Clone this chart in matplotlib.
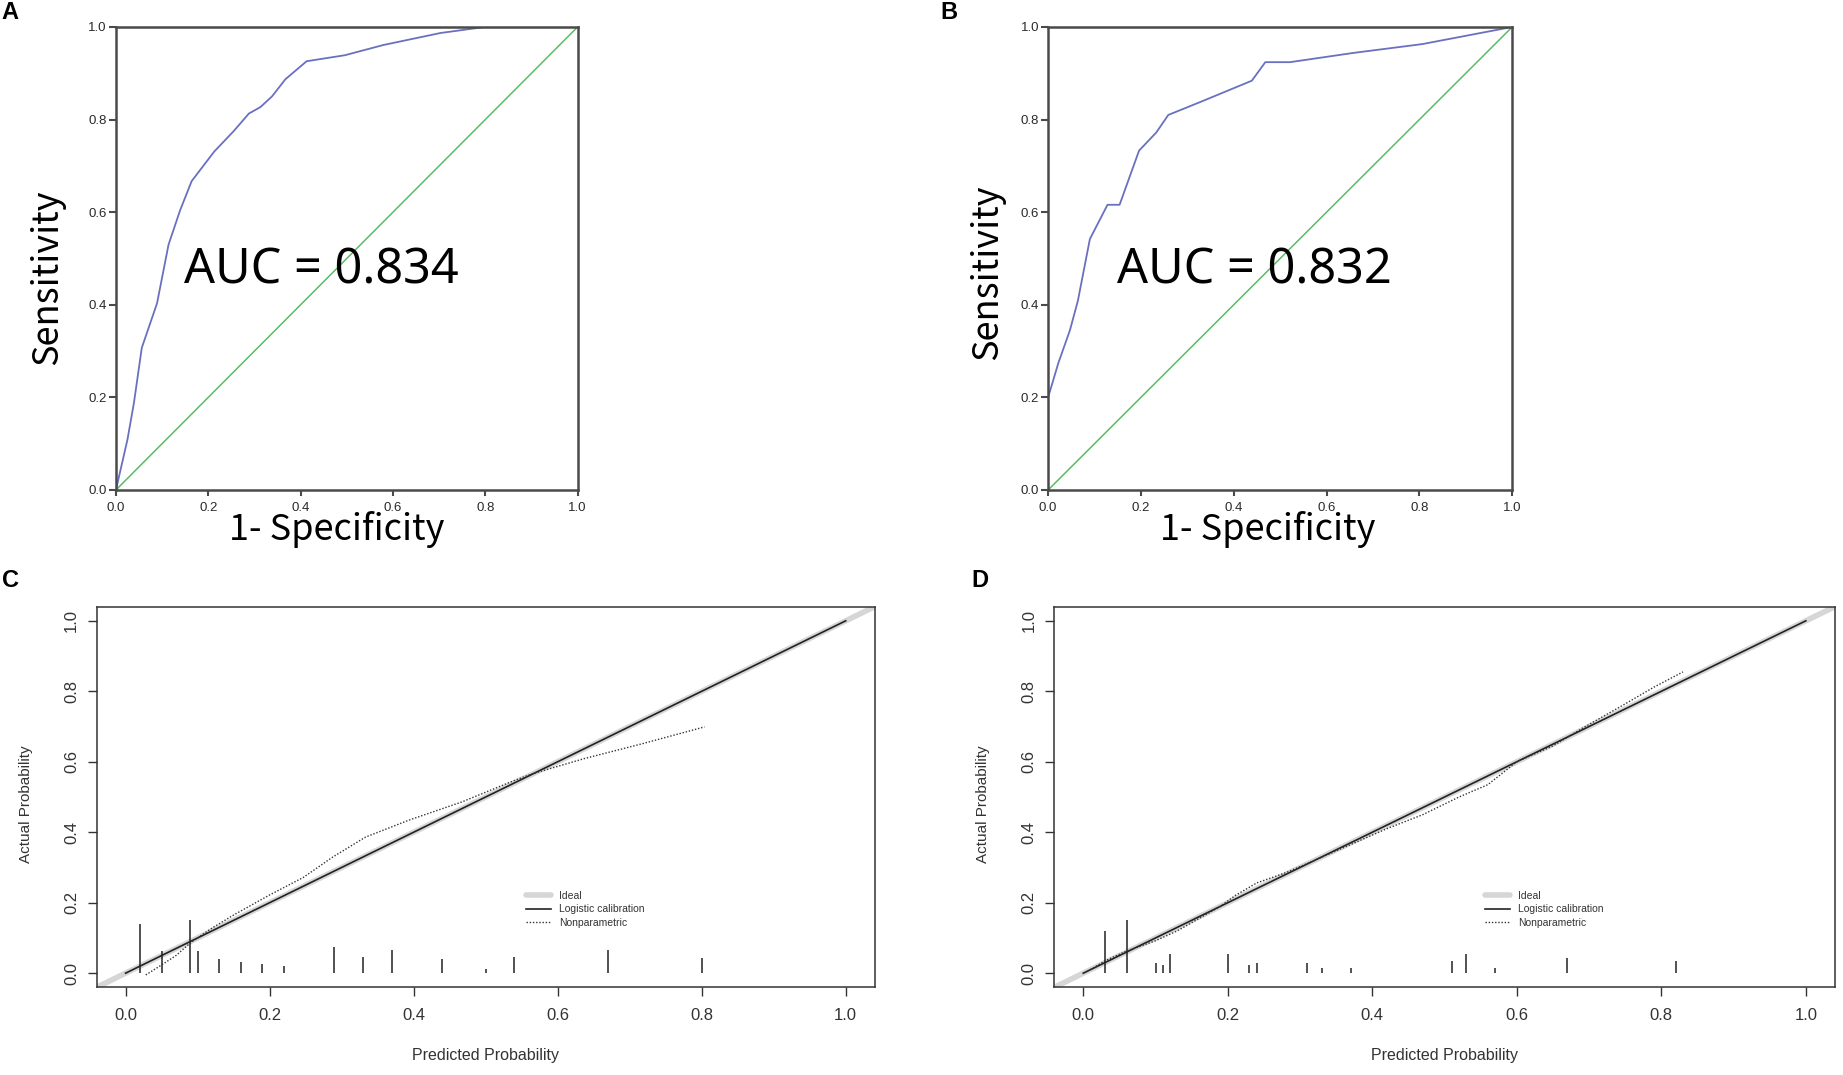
import numpy as np
import matplotlib
matplotlib.use("Agg")
import matplotlib.pyplot as plt

plt.rcParams['font.family'] = ['Liberation Sans', 'DejaVu Sans']

# ROC curves (A = training, B = validation)
roc_a_fpr = [0, 0.025, 0.039, 0.056, 0.089, 0.114, 0.139, 0.164, 0.213, 0.255,
             0.288, 0.313, 0.338, 0.367, 0.413, 0.496, 0.579, 0.703, 0.799, 1.0]
roc_a_tpr = [0, 0.109, 0.188, 0.307, 0.403, 0.53, 0.604, 0.667, 0.731, 0.775,
             0.813, 0.827, 0.85, 0.887, 0.926, 0.939, 0.961, 0.987, 1.0, 1.0]
roc_b_fpr = [0, 0, 0.022, 0.047, 0.064, 0.09, 0.128, 0.154, 0.196, 0.233, 0.259,
             0.328, 0.439, 0.468, 0.521, 0.658, 0.806, 1.0]
roc_b_tpr = [0, 0.2, 0.274, 0.345, 0.408, 0.542, 0.616, 0.616, 0.733, 0.772, 0.81,
             0.838, 0.884, 0.924, 0.924, 0.944, 0.963, 1.0]
auc_a = 0.834
auc_b = 0.832

# calibration curves (C = training, D = validation)
logit_c_x = [0.0, 0.2, 0.4, 0.6, 0.8, 1.0]
logit_c_y = [0.0, 0.2, 0.4, 0.6, 0.8, 1.0]
np_c_x = [0.028, 0.049, 0.07, 0.09, 0.12, 0.15, 0.2, 0.247, 0.288, 0.333,
          0.393, 0.467, 0.54, 0.565, 0.637, 0.719, 0.804]
np_c_y = [-0.005, 0.022, 0.05, 0.086, 0.128, 0.165, 0.222, 0.272, 0.33, 0.386,
          0.434, 0.486, 0.547, 0.566, 0.609, 0.652, 0.699]
rug_c_x = [0.02, 0.05, 0.09, 0.10, 0.13, 0.16, 0.19, 0.22, 0.29, 0.33, 0.37,
           0.44, 0.50, 0.54, 0.67, 0.80]
rug_c_h = [0.14, 0.064, 0.15, 0.062, 0.039, 0.033, 0.025, 0.02, 0.074, 0.047,
           0.067, 0.039, 0.012, 0.047, 0.067, 0.044]

logit_d_x = [0.0, 0.2, 0.4, 0.6, 0.8, 1.0]
logit_d_y = [0.0, 0.2, 0.4, 0.6, 0.8, 1.0]
np_d_x = [0.01, 0.03, 0.06, 0.1, 0.13, 0.16, 0.19, 0.21, 0.24, 0.28, 0.32, 0.37,
          0.42, 0.47, 0.52, 0.56, 0.6, 0.65, 0.694, 0.743, 0.79, 0.83]
np_d_y = [0.01, 0.035, 0.063, 0.092, 0.12, 0.155, 0.19, 0.22, 0.256, 0.285, 0.32,
          0.365, 0.41, 0.45, 0.50, 0.535, 0.6, 0.645, 0.699, 0.756, 0.812, 0.855]
rug_d_x = [0.03, 0.06, 0.10, 0.11, 0.12, 0.20, 0.23, 0.24, 0.31, 0.33, 0.37,
           0.51, 0.53, 0.57, 0.67, 0.82]
rug_d_h = [0.12, 0.15, 0.028, 0.022, 0.055, 0.055, 0.022, 0.028, 0.028, 0.015,
           0.015, 0.036, 0.055, 0.015, 0.044, 0.036]

ticks = [0.0, 0.2, 0.4, 0.6, 0.8, 1.0]
tick_labels = ['0.0', '0.2', '0.4', '0.6', '0.8', '1.0']
cjk = ['Noto Sans CJK SC', 'DejaVu Sans']

fig = plt.figure(figsize=(18.43, 10.75), dpi=100)


def roc_panel(rect, fpr, tpr, auc, ylab_x, ylab_y, xlab_x):
    ax = fig.add_axes(rect)
    ax.plot([0, 1], [0, 1], color='#5cbb66', lw=1.1, zorder=2)
    ax.plot(fpr, tpr, color='#6a70c0', lw=1.3, zorder=2.2)
    ax.set_xlim(0, 1)
    ax.set_ylim(0, 1)
    ax.set_xticks(ticks)
    ax.set_xticklabels(tick_labels)
    ax.set_yticks(ticks)
    ax.set_yticklabels(tick_labels)
    for s in ax.spines.values():
        s.set_color('#4a4a4a')
        s.set_linewidth(1.8)
        s.set_zorder(3)
    ax.tick_params(axis='x', direction='out', length=4, width=1.5, color='#4a4a4a',
                   labelsize=9.5, labelcolor='#2a2a2a', pad=4.5)
    ax.tick_params(axis='y', direction='out', length=5, width=1.5, color='#4a4a4a',
                   labelsize=9.5, labelcolor='#2a2a2a', pad=1.5)
    ax.text(0.445, 0.474, 'AUC = %.3f' % auc, transform=ax.transAxes,
            ha='center', va='center', fontsize=35,
            family=['Noto Sans', 'DejaVu Sans'], color='black')
    ax.text(ylab_x, ylab_y, 'Sensitivity', transform=ax.transAxes, rotation=90,
            ha='center', va='center', fontsize=26, family=cjk, fontweight='medium')
    ax.text(xlab_x, -0.085, '1- Specificity', transform=ax.transAxes,
            ha='center', va='center', fontsize=26, family=cjk, fontweight='medium')
    return ax


def calib_panel(rect, lx, ly, nx, ny, rx, rh):
    ax = fig.add_axes(rect)
    ax.axline((0, 0), (1, 1), color='#d6d6d6', lw=4.0, solid_capstyle='round',
              zorder=1, label='Ideal')
    ax.plot(lx, ly, color='#222222', lw=1.2, zorder=3, label='Logistic calibration')
    ax.plot(nx, ny, color='#333333', lw=1.0, linestyle=(0, (1, 1.3)), zorder=3,
            label='Nonparametric')
    ax.vlines(rx, 0, rh, color='#222222', lw=1.1, zorder=2)
    ax.set_xlim(-0.04, 1.04)
    ax.set_ylim(-0.04, 1.04)
    ax.set_xticks(ticks)
    ax.set_xticklabels(tick_labels)
    ax.set_yticks(ticks)
    ax.set_yticklabels(tick_labels, rotation=90, va='center')
    for s in ax.spines.values():
        s.set_color('#333333')
        s.set_linewidth(1.1)
    ax.tick_params(axis='x', direction='out', length=6.7, width=1.0, color='#333333',
                   labelsize=12, labelcolor='#333333', pad=8.5)
    ax.tick_params(axis='y', direction='out', length=6.7, width=1.0, color='#333333',
                   labelsize=12, labelcolor='#333333', pad=6)
    ax.text(0.5, -0.178, 'Predicted Probability', transform=ax.transAxes,
            ha='center', va='center', fontsize=11.5, color='#333333')
    ax.text(-0.091, 0.48, 'Actual Probability', transform=ax.transAxes,
            rotation=90, ha='center', va='center', fontsize=11, color='#333333')
    ax.legend(loc='center left', bbox_to_anchor=(0.556, 0.181),
              bbox_transform=ax.transData, frameon=False, fontsize=7.5,
              handlelength=2.4, handletextpad=0.8, labelspacing=0.35,
              borderpad=0, borderaxespad=0, labelcolor='#333333')
    return ax


roc_panel([0.0629, 0.5442, 0.2505, 0.4307], roc_a_fpr, roc_a_tpr, auc_a,
          -0.148, 0.46, 0.478)
roc_panel([0.5687, 0.5442, 0.2518, 0.4307], roc_b_fpr, roc_b_tpr, auc_b,
          -0.131, 0.47, 0.473)
calib_panel([0.0525, 0.0816, 0.422, 0.354], logit_c_x, logit_c_y, np_c_x, np_c_y,
            rug_c_x, rug_c_h)
calib_panel([0.5721, 0.0816, 0.4234, 0.354], logit_d_x, logit_d_y, np_d_x, np_d_y,
            rug_d_x, rug_d_h)

for letter, x, y in [('A', 0.001, 0.999), ('B', 0.510, 0.999),
                     ('C', 0.001, 0.4705), ('D', 0.527, 0.4705)]:
    fig.text(x, y, letter, fontsize=17, fontweight='bold', ha='left', va='top')

fig.savefig('out.png', dpi=100)
